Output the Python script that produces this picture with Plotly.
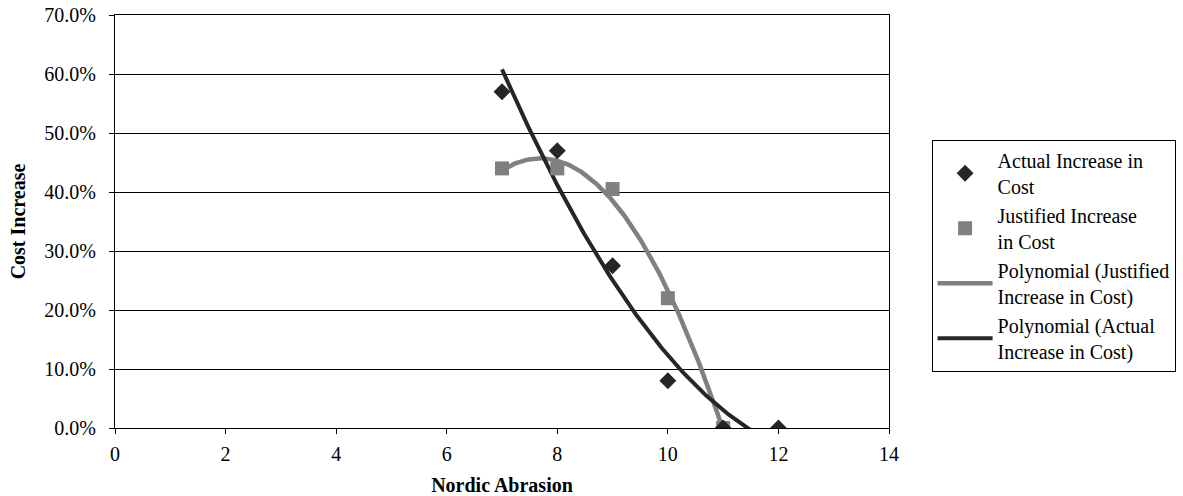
import numpy as np
import plotly.graph_objects as go

x_actual = [7, 8, 9, 10, 11, 12]
y_actual = [0.57, 0.47, 0.275, 0.08, 0.0, 0.0]
x_just = [7, 8, 9, 10, 11]
y_just = [0.44, 0.44, 0.405, 0.22, 0.0]

name_actual = "Actual Increase in<br>Cost"
name_just = "Justified Increase<br>in Cost"
name_poly_just = "Polynomial (Justified<br>Increase in Cost)"
name_poly_actual = "Polynomial (Actual<br>Increase in Cost)"

# Excel-style order-2 polynomial trendlines fitted to the data
def trend(xs, ys):
    c = np.polyfit(xs, ys, 2)
    xx = np.linspace(min(xs), max(xs), 200)
    return xx, np.polyval(c, xx)

txj, tyj = trend(x_just, y_just)
txa, tya = trend(x_actual, y_actual)

FONT = "Liberation Serif"
BLACK = "#262626"
GRAY = "#808080"

fig = go.Figure()
fig.add_trace(go.Scatter(x=txj, y=tyj, mode="lines", name=name_poly_just,
                         line=dict(color=GRAY, width=4.5), legendrank=3))
fig.add_trace(go.Scatter(x=txa, y=tya, mode="lines", name=name_poly_actual,
                         line=dict(color=BLACK, width=4), legendrank=4))
fig.add_trace(go.Scatter(x=x_just, y=y_just, mode="markers", name=name_just,
                         marker=dict(symbol="square", size=14, color=GRAY), legendrank=2))
fig.add_trace(go.Scatter(x=x_actual, y=y_actual, mode="markers", name=name_actual,
                         marker=dict(symbol="diamond", size=13, color=BLACK), legendrank=1))

fig.update_layout(
    width=1183, height=496,
    margin=dict(l=115, r=294, t=15, b=68, autoexpand=False),
    paper_bgcolor="white", plot_bgcolor="white",
    font=dict(family=FONT, size=20, color="black"),
    showlegend=True,
    legend=dict(x=1.055, y=0.698, xanchor="left", yanchor="top",
                bordercolor="black", borderwidth=1, bgcolor="white",
                font=dict(family=FONT, size=20, color="black"),
                itemwidth=55),
    xaxis=dict(range=[0, 14], dtick=2, tick0=0, showgrid=False, zeroline=False,
               showline=True, linecolor="black", linewidth=1, mirror=True,
               ticks="outside", ticklen=5, tickcolor="black", ticklabelstandoff=3,
               automargin=False,
               title=dict(text="<b>Nordic Abrasion</b>", font=dict(family=FONT, size=20), standoff=15),
               tickfont=dict(family=FONT, size=20)),
    yaxis=dict(range=[0, 0.7], dtick=0.1, tick0=0, tickformat=".1%",
               showgrid=True, gridcolor="black", gridwidth=1, zeroline=False,
               showline=True, linecolor="black", linewidth=1, mirror=True,
               ticks="outside", ticklen=5, tickcolor="black", ticklabelstandoff=9,
               automargin=False,
               title=dict(text="<b>Cost Increase</b>", font=dict(family=FONT, size=20), standoff=13),
               tickfont=dict(family=FONT, size=20)),
)

fig.write_html("out.html")
